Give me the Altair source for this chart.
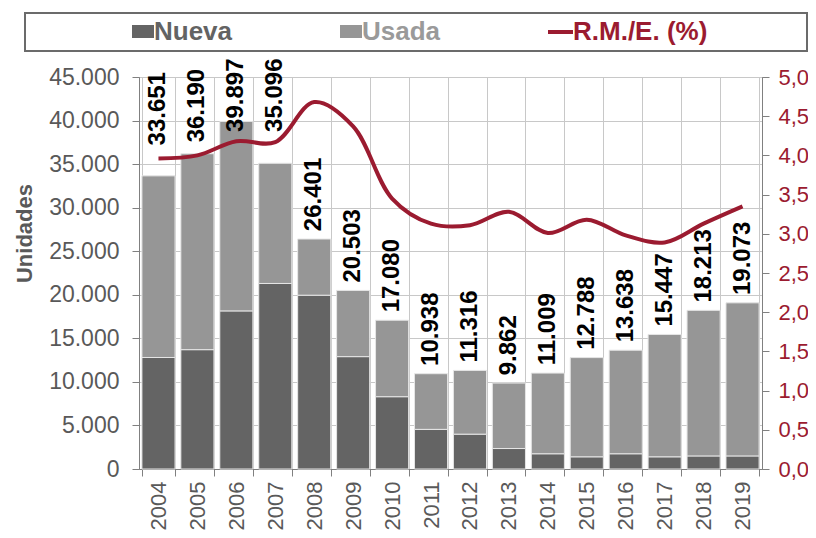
import altair as alt
import pandas as pd

years = [str(y) for y in range(2004, 2020)]
total = [33651, 36190, 39897, 35096, 26401, 20503, 17080, 10938, 11316, 9862, 11009, 12788, 13638, 15447, 18213, 19073]
nueva = [12800, 13700, 18150, 21300, 19950, 12900, 8300, 4550, 4000, 2350, 1750, 1400, 1750, 1400, 1500, 1500]
rme = [3.96, 4.00, 4.18, 4.17, 4.68, 4.37, 3.45, 3.13, 3.11, 3.28, 3.01, 3.18, 2.98, 2.89, 3.13, 3.35]

usada = [t - n for t, n in zip(total, nueva)]

DARK = "#646464"
LIGHT = "#969696"
RED = "#9b1b30"
GREY = "#595959"
FONT = "Liberation Sans"

bars_df = pd.DataFrame(
    [{"year": y, "serie": "Nueva", "value": n, "ord": 0} for y, n in zip(years, nueva)]
    + [{"year": y, "serie": "Usada", "value": u, "ord": 1} for y, u in zip(years, usada)]
)

# label anchors: above the bar, lifted above the line where the line would cross the label
UNITS_PER_PCT = 45000 / 5.0
lab_rows = []
for y, t, p in zip(years, total, rme):
    line_u = p * UNITS_PER_PCT
    if line_u < t + 9500 and line_u > t - 500:
        pos = line_u + 1500
    else:
        pos = t + 900
    pos = min(pos, 38700)
    lab_rows.append({"year": y, "pos": pos, "label": f"{t:,}".replace(",", ".")})
lab_df = pd.DataFrame(lab_rows)
line_df = pd.DataFrame({"year": years, "rme": rme})

xscale = alt.Scale(paddingInner=0.15, paddingOuter=0.075)
xaxis = alt.Axis(
    tickBand="extent", grid=True, gridColor="#c8c8c8", labelAngle=270, labelAlign="right",
    labelBaseline="middle", labelPadding=5, labelFontSize=22, labelColor=GREY, labelFont=FONT,
    tickSize=7, tickColor="#808080", domainColor="#808080", title=None,
)
yleft_scale = alt.Scale(domain=[0, 45000], nice=False)

bars = alt.Chart(bars_df).mark_bar(stroke="#e6e6e6", strokeWidth=1).encode(
    x=alt.X("year:N", scale=xscale, axis=xaxis, sort=years),
    y=alt.Y("value:Q", stack="zero", scale=yleft_scale,
            axis=alt.Axis(values=list(range(0, 45001, 5000)),
                          labelExpr="replace(format(datum.value, ','), ',', '.')",
                          labelFontSize=23, labelColor=GREY, labelFont=FONT, labelPadding=13,
                          tickSize=7, tickColor="#808080", domainColor="#808080",
                          gridColor="#c8c8c8", title="Unidades", titleFontSize=22,
                          titleColor=GREY, titleFont=FONT, titleFontWeight="bold",
                          titleX=-115, titleY=156, titleAngle=270, titleAlign="center",
                          titleBaseline="middle")),
    color=alt.Color("serie:N", scale=alt.Scale(domain=["Nueva", "Usada"], range=[DARK, LIGHT]), legend=None),
    order=alt.Order("ord:Q"),
)

labels = alt.Chart(lab_df).mark_text(
    angle=270, align="left", baseline="middle", fontSize=24, fontWeight="bold", font=FONT, color="black"
).encode(
    x=alt.X("year:N", sort=years),
    y=alt.Y("pos:Q", scale=yleft_scale),
    text="label:N",
)

line = alt.Chart(line_df).mark_line(color=RED, strokeWidth=4, interpolate="catmull-rom").encode(
    x=alt.X("year:N", sort=years),
    y=alt.Y("rme:Q", scale=alt.Scale(domain=[0, 5], nice=False),
            axis=alt.Axis(orient="right", values=[i * 0.5 for i in range(11)],
                          labelExpr="replace(format(datum.value, '.1f'), '.', ',')",
                          labelFontSize=22, labelColor=RED, labelFont=FONT, labelPadding=9,
                          tickSize=7, tickColor="#808080", domainColor="#808080",
                          grid=False, title=None)),
)

one = alt.Data(values=[{"a": 1}])
box = alt.Chart(one).mark_rect(fill="white", stroke="#6b6b6b", strokeWidth=2).encode(
    x=alt.value(-114), x2=alt.value(668), y=alt.value(-64), y2=alt.value(-26))
sq_n = alt.Chart(one).mark_rect(fill=DARK).encode(
    x=alt.value(-7), x2=alt.value(15), y=alt.value(-52), y2=alt.value(-39))
tx_n = alt.Chart(one).mark_text(align="left", baseline="middle", fontSize=26, fontWeight="bold",
                                font=FONT, color="#636363").encode(
    x=alt.value(15), y=alt.value(-45), text=alt.value("Nueva"))
sq_u = alt.Chart(one).mark_rect(fill=LIGHT).encode(
    x=alt.value(201), x2=alt.value(223), y=alt.value(-52), y2=alt.value(-39))
tx_u = alt.Chart(one).mark_text(align="left", baseline="middle", fontSize=26, fontWeight="bold",
                                font=FONT, color="#9a9a9a").encode(
    x=alt.value(223), y=alt.value(-45), text=alt.value("Usada"))
ln_r = alt.Chart(one).mark_rule(color=RED, strokeWidth=4).encode(
    x=alt.value(409), x2=alt.value(434), y=alt.value(-45))
tx_r = alt.Chart(one).mark_text(align="left", baseline="middle", fontSize=26, fontWeight="bold",
                                font=FONT, color=RED).encode(
    x=alt.value(434), y=alt.value(-45), text=alt.value("R.M./E. (%)"))

chart = alt.layer(
    alt.layer(bars, labels), line, box, sq_n, tx_n, sq_u, tx_u, ln_r, tx_r
).resolve_scale(y="independent").properties(
    width=623, height=392,
    padding={"left": 131, "top": 69, "right": 46, "bottom": 61},
    autosize=alt.AutoSizeParams(type="none"),
).configure_view(stroke="#808080")

chart.save("out.html", embed_options={"renderer": "svg", "actions": False})
